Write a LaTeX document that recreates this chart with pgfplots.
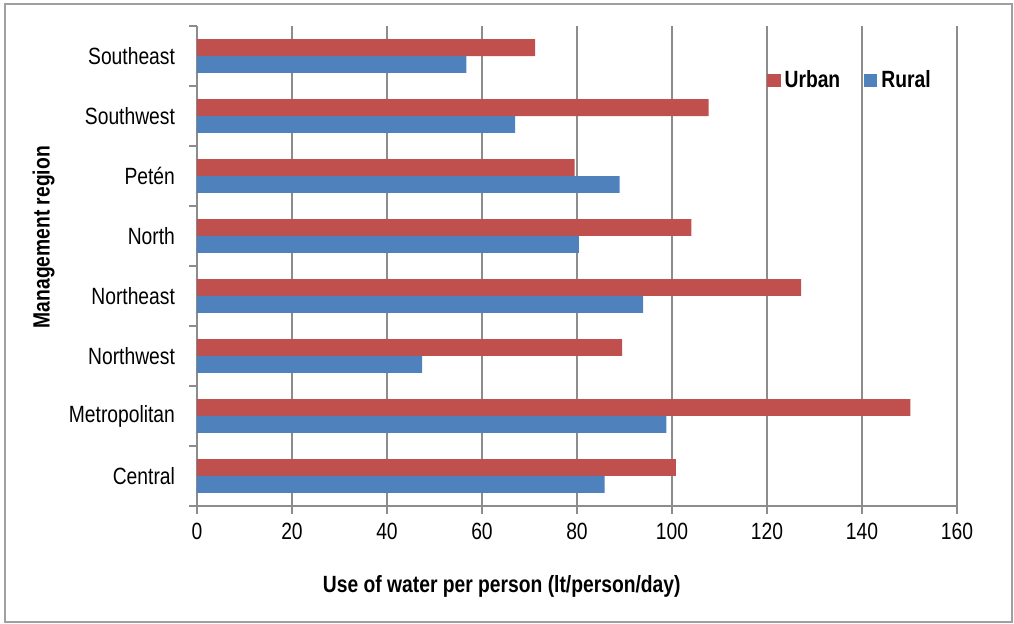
\documentclass[border=0pt]{standalone}
\usepackage{fontspec}
\setmainfont{Liberation Sans}[FakeStretch=0.82]
\usepackage{pgfplots}
\pgfplotsset{compat=1.18}
\definecolor{urbanred}{HTML}{C0504D}
\definecolor{ruralblue}{HTML}{4F81BD}
\definecolor{gridgray}{HTML}{8C8C8C}
\definecolor{framegray}{HTML}{A0A0A0}
\begin{document}
\begin{tikzpicture}
\path[use as bounding box] (-98.5pt,-59pt) rectangle (408.5pt,253pt);
\draw[framegray, line width=0.9pt] (-96pt,-58pt) rectangle (407.5pt,251pt);
\begin{axis}[
  at={(0,0)}, anchor=south west,
  scale only axis, width=380pt, height=240pt,
  xbar, bar width=0.28,
  xmin=0, xmax=160, ymin=-0.5, ymax=7.5,
  xtick={0,20,...,160},
  ytick={0,...,7},
  yticklabels={Central,Metropolitan,Northwest,Northeast,North,Pet\'en,Southwest,Southeast},
  minor ytick={-0.5,0.5,...,7.5},
  axis x line*=bottom, axis y line*=left,
  axis line style={gridgray, line width=0.9pt},
  tick align=outside,
  major tick length=4pt, minor tick length=4pt,
  every tick/.style={gridgray, line width=0.9pt},
  major y tick style={draw=none},
  xmajorgrids, major grid style={gridgray, line width=0.9pt},
  /pgf/number format/assume math mode=true,
  tick label style={font=\fontsize{11.75}{14}\selectfont, text=black},
  yticklabel style={xshift=-3.5pt},
  xticklabel style={yshift=-1pt},
  xlabel={Use of water per person (lt/person/day)},
  ylabel={Management region},
  label style={font=\fontsize{11.75}{14}\selectfont\bfseries},
  xlabel style={at={(axis description cs:0.401,-0.1667)}, anchor=center},
  ylabel style={at={(axis description cs:-0.202,0.560)}, anchor=center},
  legend columns=2,
  legend style={draw=none, fill=none, at={(axis description cs:0.75,0.886)}, anchor=west,
    inner sep=0pt, font=\fontsize{11.75}{14}\selectfont\bfseries,
    /tikz/every even column/.append style={column sep=10pt}},
  legend image code/.code={\fill[#1,draw=none] (0pt,-3.3pt) rectangle (6.6pt,3.3pt);},
]
\addplot[fill=urbanred, draw=none, bar shift=0.14] coordinates {
  (100.8,0) (150.2,1) (89.5,2) (127.2,3) (104.1,4) (79.5,5) (107.7,6) (71.2,7)};
\addplot[fill=ruralblue, draw=none, bar shift=-0.14] coordinates {
  (85.8,0) (98.8,1) (47.4,2) (93.9,3) (80.4,4) (89.0,5) (67.0,6) (56.7,7)};
\legend{Urban,Rural}
\end{axis}
\end{tikzpicture}
\end{document}
